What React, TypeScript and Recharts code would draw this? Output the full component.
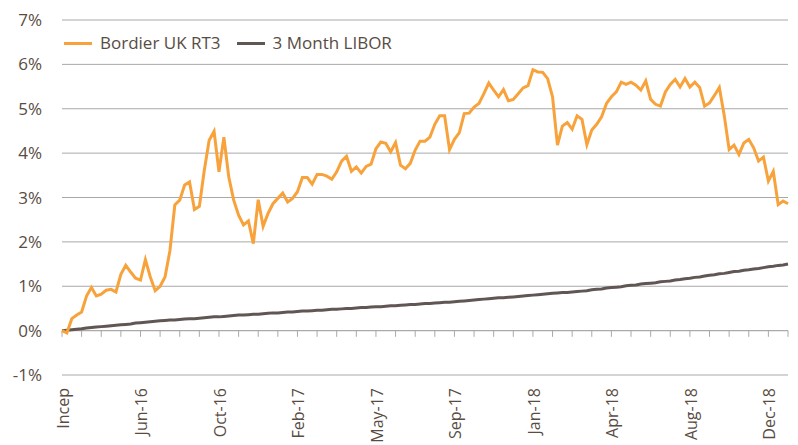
import React from 'react'
import { LineChart, Line, XAxis, YAxis, CartesianGrid, ReferenceLine } from 'recharts'

// weekly cumulative returns (%), from inception
const rt3 = [
  0.0, -0.05, 0.27, 0.35, 0.42, 0.78, 0.97, 0.78, 0.82, 0.91, 0.93, 0.87, 1.27, 1.47, 1.32, 1.18,
  1.14, 1.6, 1.21, 0.9, 1.0, 1.21, 1.8, 2.83, 2.94, 3.28, 3.35, 2.73, 2.8, 3.61, 4.29, 4.49,
  3.58, 4.36, 3.46, 2.94, 2.6, 2.38, 2.47, 1.96, 2.95, 2.35, 2.64, 2.86, 2.98, 3.1, 2.9, 2.98,
  3.13, 3.45, 3.45, 3.3, 3.52, 3.52, 3.48, 3.41, 3.58, 3.82, 3.93, 3.59, 3.69, 3.55, 3.7, 3.75,
  4.1, 4.25, 4.22, 4.03, 4.24, 3.73, 3.65, 3.77, 4.07, 4.27, 4.27, 4.36, 4.65, 4.84, 4.84, 4.08,
  4.31, 4.46, 4.89, 4.9, 5.04, 5.12, 5.34, 5.58, 5.42, 5.27, 5.43, 5.18, 5.21, 5.34, 5.47, 5.52,
  5.88, 5.83, 5.82, 5.68, 5.27, 4.18, 4.61, 4.69, 4.54, 4.84, 4.76, 4.19, 4.52, 4.65, 4.82, 5.12,
  5.27, 5.38, 5.6, 5.55, 5.6, 5.53, 5.42, 5.63, 5.21, 5.1, 5.06, 5.38, 5.55, 5.66, 5.49, 5.68,
  5.49, 5.6, 5.48, 5.06, 5.13, 5.3, 5.48, 4.85, 4.08, 4.18, 3.97, 4.23, 4.31, 4.12, 3.82, 3.91,
  3.37, 3.59, 2.84, 2.92, 2.86,
]

const libor = [
  0.0, 0.01, 0.02, 0.03, 0.04, 0.06, 0.07, 0.08, 0.09, 0.1, 0.11, 0.12, 0.13, 0.14, 0.15, 0.17,
  0.18, 0.19, 0.2, 0.21, 0.22, 0.23, 0.24, 0.24, 0.25, 0.26, 0.27, 0.27, 0.28, 0.29, 0.3, 0.31,
  0.31, 0.32, 0.33, 0.34, 0.35, 0.35, 0.36, 0.37, 0.37, 0.38, 0.39, 0.4, 0.4, 0.41, 0.42, 0.42,
  0.43, 0.44, 0.44, 0.45, 0.46, 0.46, 0.47, 0.48, 0.48, 0.49, 0.5, 0.5, 0.51, 0.52, 0.52, 0.53,
  0.54, 0.54, 0.55, 0.56, 0.56, 0.57, 0.58, 0.59, 0.59, 0.6, 0.61, 0.61, 0.62, 0.63, 0.64, 0.64,
  0.65, 0.66, 0.67, 0.68, 0.69, 0.7, 0.71, 0.72, 0.73, 0.74, 0.74, 0.75, 0.76, 0.77, 0.78, 0.79,
  0.8, 0.81, 0.82, 0.83, 0.84, 0.85, 0.86, 0.86, 0.87, 0.88, 0.89, 0.9, 0.92, 0.93, 0.94, 0.96,
  0.97, 0.98, 0.99, 1.01, 1.02, 1.03, 1.05, 1.06, 1.07, 1.08, 1.1, 1.11, 1.12, 1.14, 1.15, 1.17,
  1.18, 1.2, 1.21, 1.23, 1.25, 1.26, 1.28, 1.29, 1.31, 1.33, 1.34, 1.36, 1.37, 1.39, 1.4, 1.42,
  1.44, 1.45, 1.47, 1.48, 1.5,
]

const tickLabels = ['Incep', 'Jun-16', 'Oct-16', 'Feb-17', 'May-17', 'Sep-17', 'Jan-18', 'Apr-18', 'Aug-18', 'Dec-18']
const labelWeeks = [0, 16, 32, 48, 64, 80, 96, 112, 128, 144]
const yTicks = [-1, 0, 1, 2, 3, 4, 5, 6, 7]

const ORANGE = '#F8A23C'
const DARK = '#605654'
const TEXT = '#584c43'
const GRID = '#a9a9a9'
const FONT = "'Open Sans', sans-serif"
const FS = 17

const data = rt3.map((v, i) => ({ week: i, rt3: v, libor: libor[i] }))
const markWeeks = data.filter((d) => d.week % 4 === 0).map((d) => d.week)

function XTick(props: any) {
  const { x, y, payload } = props
  const label = tickLabels[labelWeeks.indexOf(payload.value)]
  return (
    <text
      x={x + 1}
      y={y}
      transform={`rotate(-90, ${x + 1}, ${y})`}
      textAnchor="end"
      dominantBaseline="central"
      fill={TEXT}
      fontSize={16}
      fontFamily={FONT}
    >
      {label}
    </text>
  )
}

function LegendBox() {
  const items = [
    { name: 'Bordier UK RT3', color: ORANGE },
    { name: '3 Month LIBOR', color: DARK },
  ]
  return (
    <div
      style={{
        position: 'absolute', left: 64, top: 31, display: 'flex', alignItems: 'center',
        fontFamily: FONT, fontSize: FS, color: TEXT, lineHeight: '24px',
      }}
    >
      {items.map((it) => (
        <div key={it.name} style={{ display: 'flex', alignItems: 'center', marginRight: 16 }}>
          <span style={{ display: 'inline-block', width: 28, height: 3, background: it.color, marginRight: 8 }} />
          <span>{it.name}</span>
        </div>
      ))}
    </div>
  )
}

export default function App() {
  return (
    <div style={{ position: 'absolute', left: 0, top: 0, width: 798, height: 445, background: '#fff' }}>
      <LineChart width={798} height={445} data={data} margin={{ top: 20, right: 10, left: 0, bottom: 0 }}>
        <CartesianGrid horizontal vertical={false} stroke={GRID} />
        <XAxis
          dataKey="week"
          type="number"
          domain={[0, rt3.length - 1]}
          ticks={labelWeeks}
          interval={0}
          axisLine={false}
          tickLine={false}
          tickMargin={7}
          height={70}
          tick={<XTick />}
        />
        <YAxis
          domain={[-1, 7]}
          ticks={yTicks}
          tickFormatter={(v) => `${v}%`}
          axisLine={false}
          tickLine={false}
          tickMargin={14}
          width={62}
          tick={{ fill: TEXT, fontSize: FS, fontFamily: FONT }}
        />
        <ReferenceLine y={0} stroke={GRID} strokeWidth={1} />
        {markWeeks.map((w) => (
          <ReferenceLine
            key={w}
            segment={[{ x: w, y: 0 }, { x: w, y: -0.14 }]}
            stroke={GRID}
            strokeWidth={1}
          />
        ))}
        <Line
          type="linear"
          dataKey="libor"
          stroke={DARK}
          strokeWidth={3}
          dot={false}
          isAnimationActive={false}
        />
        <Line
          type="linear"
          dataKey="rt3"
          stroke={ORANGE}
          strokeWidth={3}
          dot={false}
          isAnimationActive={false}
        />
      </LineChart>
      <LegendBox />
    </div>
  )
}
